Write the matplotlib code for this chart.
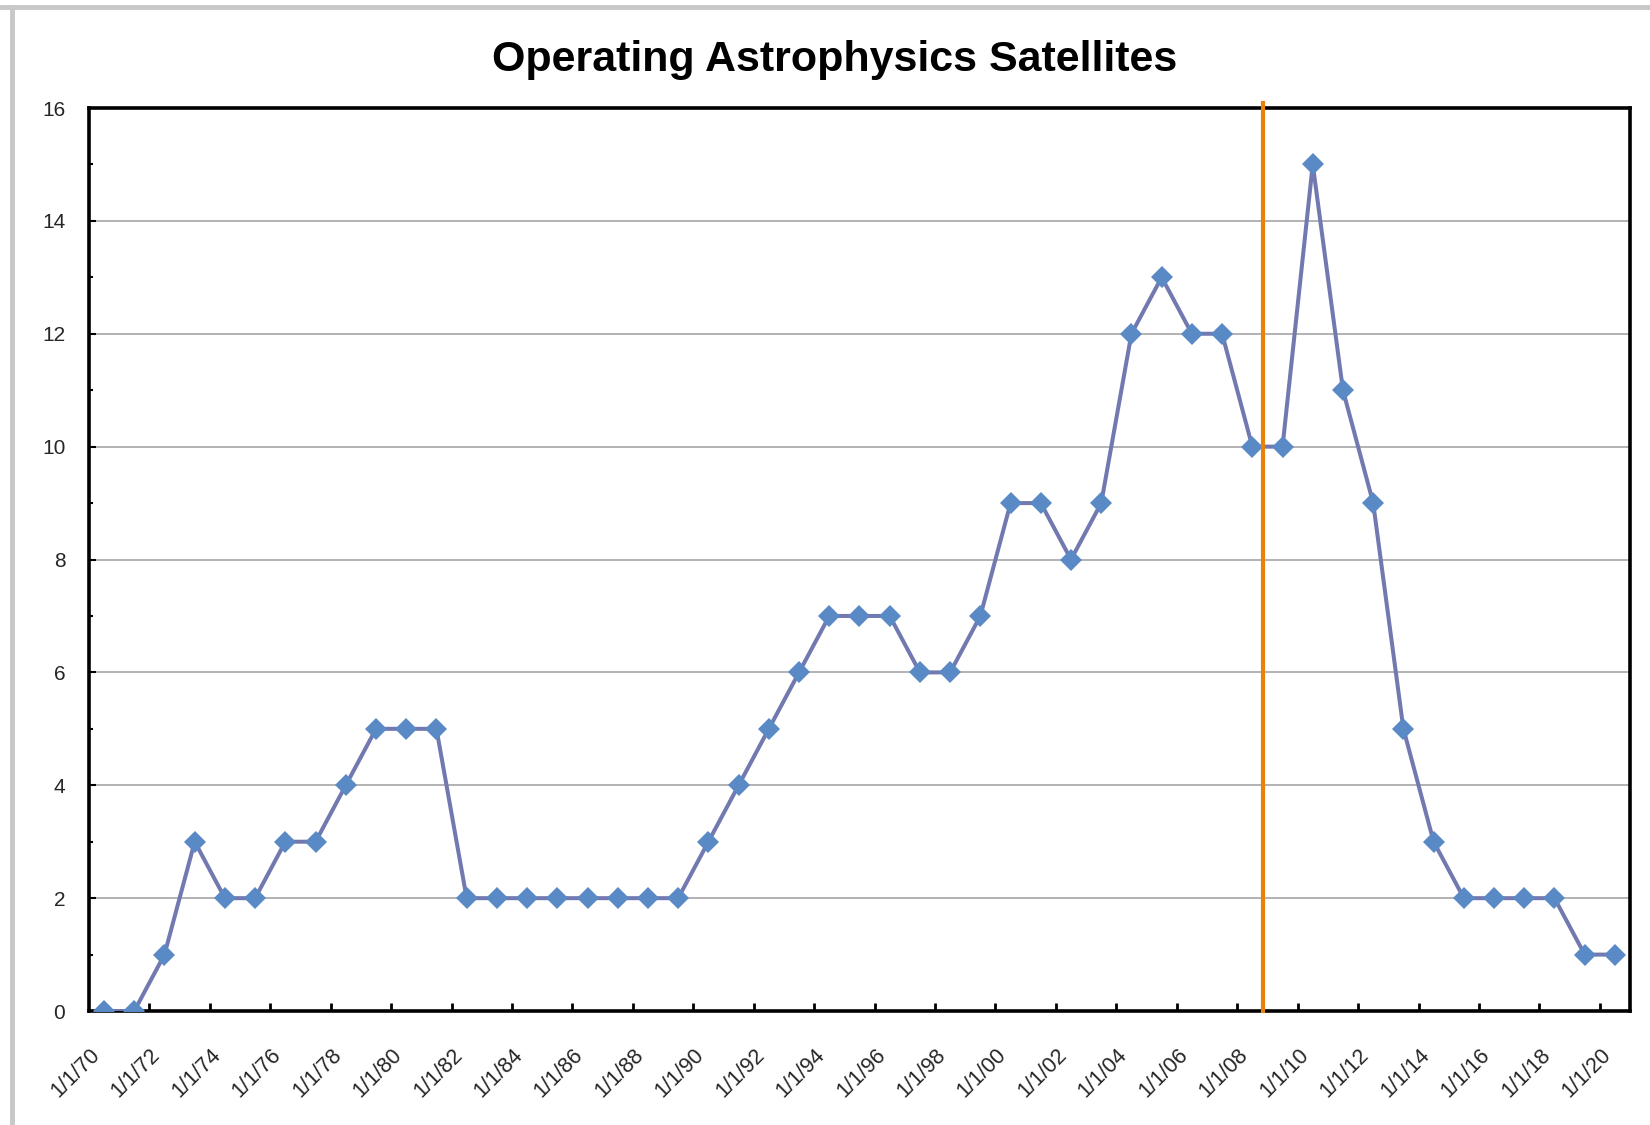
import numpy as np
import matplotlib
matplotlib.use("Agg")
import matplotlib.pyplot as plt
from matplotlib.lines import Line2D
from matplotlib.ticker import FixedLocator, MultipleLocator

plt.rcParams['font.family'] = ['Liberation Sans', 'DejaVu Sans']

# number of operating satellites on 1 January of each year
years = list(range(1970, 2021))
counts = [0, 0, 1, 3, 2, 2, 3, 3, 4, 5,
          5, 5, 2, 2, 2, 2, 2, 2, 2, 2,
          3, 4, 5, 6, 7, 7, 7, 6, 6, 7,
          9, 9, 8, 9, 12, 13, 12, 12, 10, 10,
          15, 11, 9, 5, 3, 2, 2, 2, 2, 1,
          1]
label_years = years[::2]
tick_labels = ["1/1/%02d" % (y % 100) for y in label_years]
marker_year = 2008.37

fig = plt.figure(figsize=(16.5, 11.25), dpi=100)
ax = fig.add_axes([0.0539, 0.1013, 0.9340, 0.8027])

ax.plot(years, counts, color='#7279b0', lw=2.9, marker='D', markersize=11,
        markerfacecolor='#5a8ac6', markeredgewidth=0, zorder=3)

ax.axvline(marker_year, ymin=0, ymax=1.005, color='#e8820c', lw=3, clip_on=False, zorder=4)

ax.set_xlim(years[0] - 0.5, years[-1] + 0.5)
ax.set_ylim(0, 16)

# labels sit on even years, tick marks between them
ax.xaxis.set_major_locator(FixedLocator(label_years))
ax.set_xticklabels(tick_labels, rotation=45, ha='right', va='top')
ax.xaxis.set_minor_locator(FixedLocator(np.arange(years[0] + 1.5, years[-1], 2)))
ax.tick_params(axis='x', which='major', length=0, pad=24, labelsize=15.5, labelcolor='#262626')
ax.tick_params(axis='x', which='minor', direction='in', length=6, width=2, color='black')

ax.yaxis.set_major_locator(MultipleLocator(2))
ax.yaxis.set_minor_locator(MultipleLocator(1))
ax.tick_params(axis='y', which='major', direction='in', length=5, width=1.5,
               pad=17, labelsize=15, labelcolor='#262626')
ax.tick_params(axis='y', which='minor', direction='in', length=3, width=1.5)

ax.grid(axis='y', which='major', color='#a6a6a6', lw=1.2, zorder=1)
for s in ax.spines.values():
    s.set_linewidth(2.6)
    s.set_color('black')

fig.text(0.506, 0.947, 'Operating Astrophysics Satellites', ha='center', va='center',
         fontsize=31, fontweight='bold')

# gray frame edges along the top and left
fig.add_artist(Line2D([0, 1], [1 - 7 / 1125] * 2, transform=fig.transFigure, color='#c8c8c8', lw=3.5))
fig.add_artist(Line2D([12 / 1650] * 2, [0, 1 - 7 / 1125], transform=fig.transFigure, color='#c8c8c8', lw=3.5))

fig.savefig('out.png', dpi=100)
